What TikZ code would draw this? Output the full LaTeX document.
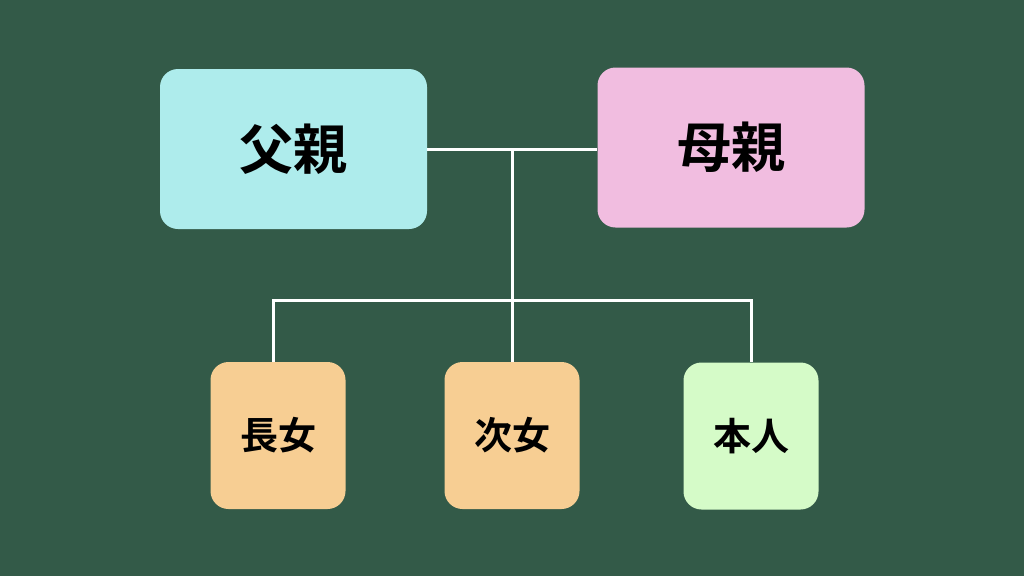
\documentclass[tikz,border=0pt]{standalone}
\usepackage{fontspec}
\usepackage{xcolor}
\usepackage{tikz}
\newfontfamily\cjk{Noto Sans CJK JP}[BoldFont={Noto Sans CJK JP Bold}]

\definecolor{board}{HTML}{335A48}
\definecolor{fathercol}{HTML}{AEECEC}
\definecolor{mothercol}{HTML}{F1BDE0}
\definecolor{daughtercol}{HTML}{F7CE93}
\definecolor{selfcol}{HTML}{D5FBC8}

\begin{document}
\begin{tikzpicture}[x=1pt,y=-1pt,every node/.style={shape=rectangle,align=center},
    parentbox/.style={rounded corners=18pt,minimum width=267pt,minimum height=160pt,font=\cjk\bfseries\fontsize{54}{60}\selectfont},
    childbox/.style={rounded corners=18pt,minimum width=135pt,minimum height=147pt,font=\cjk\bfseries\fontsize{38}{44}\selectfont},
    link/.style={draw=white,line width=3pt}]
      \fill[board] (0,0) rectangle (1024,576);
      \useasboundingbox (0,0) rectangle (1024,576);
      \node[parentbox,fill=fathercol] (father) at (293.5,149) {父親};
      \node[parentbox,fill=mothercol] (mother) at (731,147.5) {母親};
      \node[childbox,fill=daughtercol] (eldest) at (278,435.5) {長女};
      \node[childbox,fill=daughtercol] (second) at (512,435.5) {次女};
      \node[childbox,fill=selfcol] (self) at (751,436) {本人};
      \coordinate (mid) at (512,149);
      \coordinate (fork) at (512,300);
      \draw[link] (father.east) -- (father.east -| mother.west);
      \draw[link] (mid) -- (fork);
      \draw[link] (eldest.north -| 273,0) |- (fork) -| (self.north);
      \draw[link] (fork) -- (second.north);
\end{tikzpicture}
\end{document}
